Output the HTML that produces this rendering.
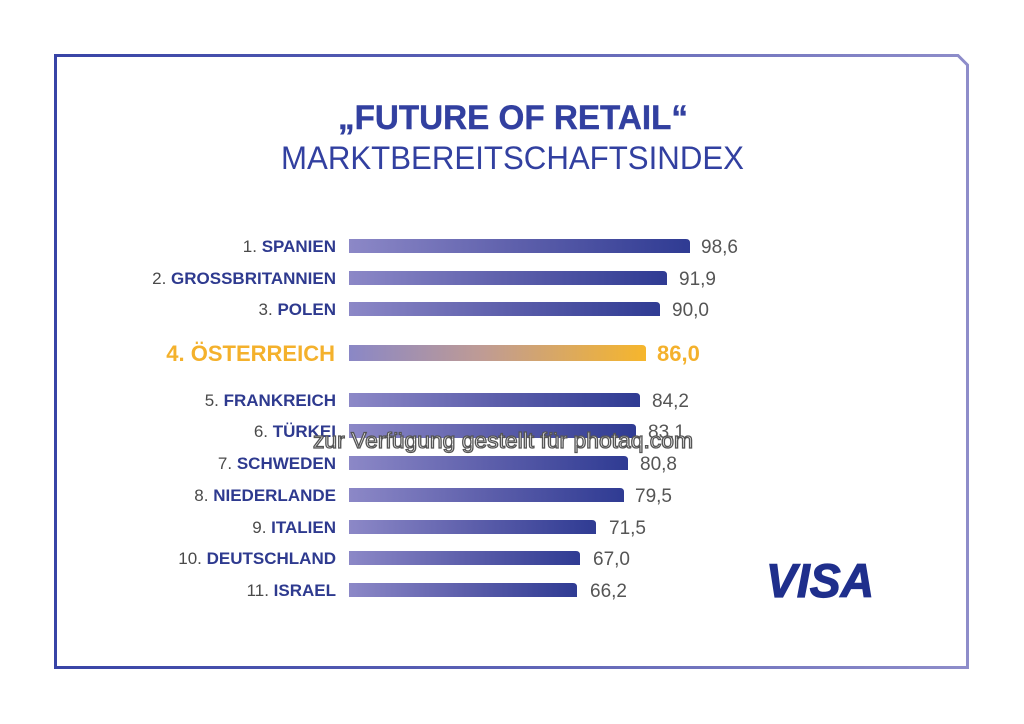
<!DOCTYPE html>
<html>
<head>
<meta charset="utf-8">
<style>
  html, body { margin:0; padding:0; background:#ffffff; }
  body { width:1024px; height:724px; overflow:hidden; }
  svg { display:block; }
  .num { font-family:"Liberation Sans", sans-serif; font-weight:normal; fill:#4a4a4a; }
  .name { font-family:"Liberation Sans", sans-serif; font-weight:bold; fill:#2e3a8f; }
  .val { font-family:"Liberation Sans", sans-serif; font-size:19px; fill:#555555; }
</style>
</head>
<body>
<svg width="1024" height="724" viewBox="0 0 1024 724" xmlns="http://www.w3.org/2000/svg">
  <defs>
    <linearGradient id="border" gradientUnits="userSpaceOnUse" x1="54" y1="0" x2="969" y2="0">
      <stop offset="0" stop-color="#3844a6"/>
      <stop offset="0.5" stop-color="#5d63b6"/>
      <stop offset="1" stop-color="#8e8dca"/>
    </linearGradient>
    <linearGradient id="bar" x1="0" y1="0" x2="1" y2="0">
      <stop offset="0" stop-color="#8c88c7"/>
      <stop offset="0.5" stop-color="#5d5fab"/>
      <stop offset="1" stop-color="#2f3b93"/>
    </linearGradient>
    <linearGradient id="barO" x1="0" y1="0" x2="1" y2="0">
      <stop offset="0" stop-color="#8a87c6"/>
      <stop offset="0.45" stop-color="#bf9b94"/>
      <stop offset="1" stop-color="#f6b62c"/>
    </linearGradient>
  </defs>

  <rect x="0" y="0" width="1024" height="724" fill="#ffffff"/>

  <!-- border -->
  <path d="M55.5,55.5 H958 L967.5,65 V667.5 H55.5 Z" fill="none" stroke="url(#border)" stroke-width="3"/>

  <!-- titles -->
  <text x="338" y="129" font-family="Liberation Sans, sans-serif" font-weight="bold" font-size="34" fill="#3240a0" stroke="#3240a0" stroke-width="0.4" textLength="350" lengthAdjust="spacingAndGlyphs">„FUTURE OF RETAIL“</text>
  <text x="281" y="169" font-family="Liberation Sans, sans-serif" font-size="32" fill="#3240a0" textLength="463" lengthAdjust="spacingAndGlyphs">MARKTBEREITSCHAFTSINDEX</text>

  <!-- bars -->
  <path d="M349,239 H686 Q690,239 690,243 V253 H349 Z" fill="url(#bar)"/>
  <path d="M349,271 H663 Q667,271 667,275 V285 H349 Z" fill="url(#bar)"/>
  <path d="M349,302 H656 Q660,302 660,306 V316 H349 Z" fill="url(#bar)"/>
  <path d="M349,345 H642 Q646,345 646,349 V361 H349 Z" fill="url(#barO)"/>
  <path d="M349,393 H636 Q640,393 640,397 V407 H349 Z" fill="url(#bar)"/>
  <path d="M349,424 H632 Q636,424 636,428 V438 H349 Z" fill="url(#bar)"/>
  <path d="M349,456 H624 Q628,456 628,460 V470 H349 Z" fill="url(#bar)"/>
  <path d="M349,488 H620 Q624,488 624,492 V502 H349 Z" fill="url(#bar)"/>
  <path d="M349,520 H592 Q596,520 596,524 V534 H349 Z" fill="url(#bar)"/>
  <path d="M349,551 H576 Q580,551 580,555 V565 H349 Z" fill="url(#bar)"/>
  <path d="M349,583 H573 Q577,583 577,587 V597 H349 Z" fill="url(#bar)"/>

  <!-- labels -->
  <g font-size="17" text-anchor="end">
    <text x="336" y="252"><tspan class="num">1. </tspan><tspan class="name">SPANIEN</tspan></text>
    <text x="336" y="284"><tspan class="num">2. </tspan><tspan class="name">GROSSBRITANNIEN</tspan></text>
    <text x="336" y="315"><tspan class="num">3. </tspan><tspan class="name">POLEN</tspan></text>
    <text x="335" y="361" font-family="Liberation Sans, sans-serif" font-weight="bold" font-size="22" fill="#f4b12c">4. ÖSTERREICH</text>
    <text x="336" y="406"><tspan class="num">5. </tspan><tspan class="name">FRANKREICH</tspan></text>
    <text x="336" y="437"><tspan class="num">6. </tspan><tspan class="name">TÜRKEI</tspan></text>
    <text x="336" y="469"><tspan class="num">7. </tspan><tspan class="name">SCHWEDEN</tspan></text>
    <text x="336" y="501"><tspan class="num">8. </tspan><tspan class="name">NIEDERLANDE</tspan></text>
    <text x="336" y="533"><tspan class="num">9. </tspan><tspan class="name">ITALIEN</tspan></text>
    <text x="336" y="564"><tspan class="num">10. </tspan><tspan class="name">DEUTSCHLAND</tspan></text>
    <text x="336" y="596"><tspan class="num">11. </tspan><tspan class="name">ISRAEL</tspan></text>
  </g>

  <!-- values -->
  <text class="val" x="701" y="253">98,6</text>
  <text class="val" x="679" y="285">91,9</text>
  <text class="val" x="672" y="316">90,0</text>
  <text x="657" y="361" font-family="Liberation Sans, sans-serif" font-weight="bold" font-size="22" fill="#f4b12c">86,0</text>
  <text class="val" x="652" y="407">84,2</text>
  <text class="val" x="648" y="438">83,1</text>
  <text class="val" x="640" y="470">80,8</text>
  <text class="val" x="635" y="502">79,5</text>
  <text class="val" x="609" y="534">71,5</text>
  <text class="val" x="593" y="565">67,0</text>
  <text class="val" x="590" y="597">66,2</text>

  <!-- VISA logo -->
  <text x="766" y="597" font-family="Liberation Sans, sans-serif" font-weight="bold" font-style="italic" font-size="47" fill="#1f2f8c" stroke="#1f2f8c" stroke-width="1.2" textLength="108" lengthAdjust="spacingAndGlyphs">VISA</text>

  <!-- watermark -->
  <text x="313" y="448" font-family="Liberation Sans, sans-serif" font-size="22" fill="#ffffff" stroke="#555555" stroke-width="1.3" textLength="380" lengthAdjust="spacingAndGlyphs">zur Verfügung gestellt für photaq.com</text>
</svg>
</body>
</html>
